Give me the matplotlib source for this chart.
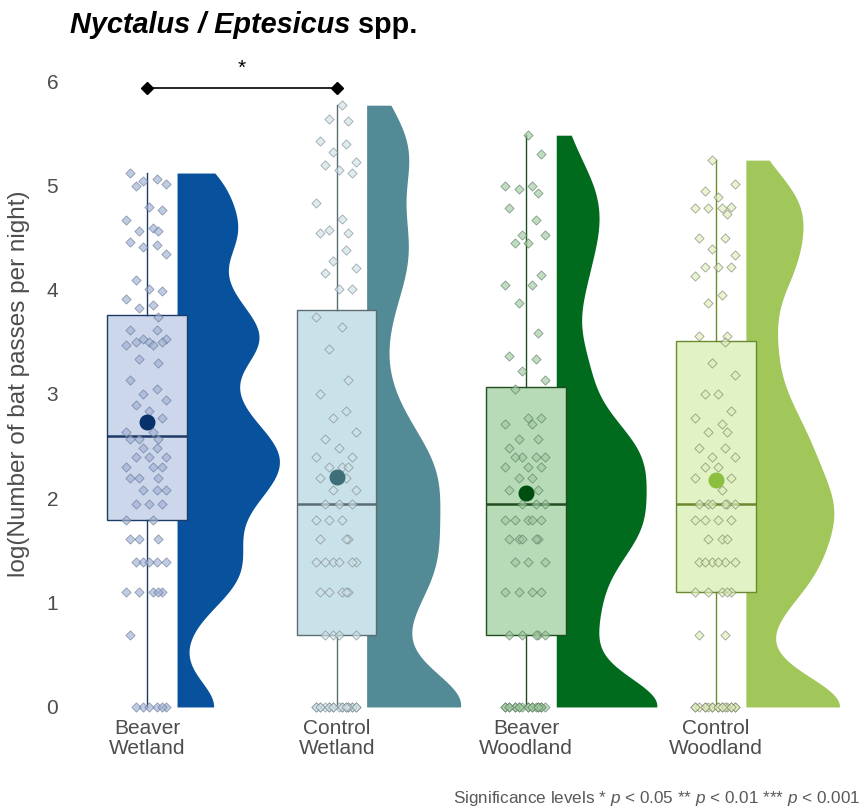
import numpy as np
import matplotlib
matplotlib.use('Agg')
import matplotlib.pyplot as plt

plt.rcParams['font.family'] = ['Liberation Sans', 'DejaVu Sans']
plt.rcParams['mathtext.fontset'] = 'custom'
plt.rcParams['mathtext.it'] = 'Liberation Sans:italic'
plt.rcParams['mathtext.rm'] = 'Liberation Sans'

# -- bat passes per night for each site type (plotted as log)
labels = ['Beaver\nWetland', 'Control\nWetland', 'Beaver\nWoodland', 'Control\nWoodland']

beaver_wetland = [167, 158, 155, 151, 148, 121, 117, 106, 99, 96, 96, 86, 84, 82, 77,
                  60, 55, 54, 50, 47, 46,
                  42, 37, 37, 34, 34, 33, 33, 33, 32, 32, 28, 27, 23, 21, 20, 19, 18,
                  17, 16, 14, 14,
                  13, 13, 13, 12, 12, 11, 11, 11, 10, 10, 10, 9, 9, 9, 8, 8, 8, 7, 7, 7,
                  6, 6, 5, 5, 5, 4, 4, 4, 4, 4, 3, 3, 3, 3, 3, 2, 1, 1, 1, 1, 1, 1]

control_wetland = [320, 279, 276, 226, 221, 204, 185, 181, 172, 167, 125, 107, 97, 94, 94,
                   80, 72, 67, 64, 55, 55,
                   42, 38, 31, 23, 20, 17, 16, 14, 13, 12, 11, 11, 10, 10, 10, 9, 9, 8, 8,
                   7, 7, 7,
                   6, 6, 6, 5, 5, 5, 4, 4, 4, 4, 4, 4, 3, 3, 3, 3, 3,
                   2, 2, 2, 2,
                   1, 1, 1, 1, 1, 1, 1, 1, 1, 1, 1, 1, 1, 1, 1, 1, 1, 1, 1, 1]

beaver_woodland = [240, 200, 148, 148, 143, 138, 119, 106, 92, 92, 85, 85, 63, 57, 57,
                   48, 36, 29, 28, 25, 23,
                   21, 16, 16, 15, 15, 13, 13, 12, 11, 11, 11, 11, 10, 10, 10, 9, 9, 8, 8,
                   7, 7, 7,
                   6, 6, 6, 6, 6, 5, 5, 5, 5, 5, 4, 4, 4, 3, 3, 3, 3,
                   2, 2, 2, 2, 2,
                   1, 1, 1, 1, 1, 1, 1, 1, 1, 1, 1, 1, 1, 1, 1, 1, 1, 1, 1]

control_woodland = [189, 151, 140, 133, 121, 119, 119, 119, 113, 90, 90, 81, 76, 68, 68,
                    68, 62, 52, 48, 35, 35,
                    33, 27, 24, 20, 20, 17, 16, 15, 14, 14, 12, 12, 11, 11, 10, 10,
                    9, 9, 8,
                    7, 7, 7, 7, 7, 7,
                    6, 6, 6, 6, 5, 5, 5, 4, 4, 4, 4, 4, 4,
                    3, 3, 3, 3, 3, 2, 2,
                    1, 1, 1, 1, 1, 1, 1, 1, 1, 1, 1, 1, 1, 1, 1, 1, 1, 1]

violin_col = ['#08519c', '#528a96', '#006b1c', '#a1c65a']
box_col = ['#cdd7eb', '#c9e2e9', '#b6dbb6', '#e1f2c4']
edge_col = ['#1e3a66', '#5b6d72', '#1f4d1f', '#6b8a2e']
pt_fill = ['#9fb1d4', '#cfe1e6', '#9fcb9f', '#ddeebb']
pt_edge = ['#5f6f8c', '#6f8085', '#54705a', '#6f755e']
mean_col = ['#08306b', '#3e6e78', '#004d10', '#8cbf3f']

# horizontal offsets reused for the points of every group
jitter = np.array([-0.09, 0.05, -0.02, 0.10, -0.06, 0.01, 0.08, -0.11, 0.03, -0.04, 0.06])

data = [np.log(np.array(d, dtype=float)) for d in
        (beaver_wetland, control_wetland, beaver_woodland, control_woodland)]
pos = np.arange(1, 5)


def kde(v, grid, adjust=0.5):
    n = len(v)
    iqr = np.subtract(*np.percentile(v, [75, 25]))
    bw = adjust * 0.9 * min(v.std(ddof=1), iqr / 1.34) * n ** -0.2
    z = (grid[:, None] - v[None, :]) / bw
    return np.exp(-0.5 * z ** 2).sum(axis=1) / (n * bw * np.sqrt(2 * np.pi))


fig = plt.figure(figsize=(8.67, 8.11), dpi=100)
ax = fig.add_axes([68 / 867, 0.1154, 792 / 867, 0.8233])

#-half violins on the right of each box, same area for all groups
grids = [np.linspace(v.min(), v.max(), 300) for v in data]
dens = [kde(v, g) for v, g in zip(data, grids)]
k = 0.54 / max(d.max() for d in dens)
for i in range(4):
    x0 = pos[i] + 0.158
    ax.fill_betweenx(grids[i], x0, x0 + dens[i] * k, color=violin_col[i], lw=0, zorder=1)

#-boxes
bp = ax.boxplot(data, positions=pos, widths=0.42, whis=1.5, showfliers=False,
                showcaps=False, patch_artist=True, manage_ticks=False, zorder=2)
for i in range(4):
    bp['boxes'][i].set(facecolor=box_col[i], edgecolor=edge_col[i], linewidth=1.0)
    bp['medians'][i].set(color=edge_col[i], linewidth=1.8)
    for w in bp['whiskers'][2 * i:2 * i + 2]:
        w.set(color=edge_col[i], linewidth=1.0)

#-jittered points and group means
for i, v in enumerate(data):
    jit = np.resize(np.roll(jitter, 3 * i), len(v))
    ax.scatter(pos[i] + jit, v, marker='D', s=22, facecolor=pt_fill[i],
               edgecolor=pt_edge[i], linewidth=0.6, alpha=0.65, zorder=3)
    ax.scatter(pos[i], v.mean(), s=110, color=mean_col[i], zorder=4)

#-significance bracket
ax.plot([1, 2], [5.93, 5.93], color='black', lw=1.2, marker='D', ms=6, clip_on=False, zorder=5)
ax.text(1.5, 6.03, '*', ha='center', va='bottom', fontsize=15, color='black')

ax.set_xlim(0.583, 4.76)
ax.set_ylim(-0.1, 6.3)
ax.set_yticks(range(7))
ax.set_xticks(pos)
ax.set_xticklabels(labels, fontsize=15, color='#4d4d4d', linespacing=1.1)
ax.tick_params(axis='both', length=0, labelcolor='#4d4d4d')
ax.tick_params(axis='y', labelsize=15, pad=7)
ax.tick_params(axis='x', pad=1)
for s in ax.spines.values():
    s.set_visible(False)
ax.set_ylabel('log(Number of bat passes per night)', fontsize=17.5, color='#4d4d4d', labelpad=12)

#-title, italic genus names then plain "spp."
t1 = fig.text(70 / 867, 1 - 33 / 811, 'Nyctalus / Eptesicus', fontsize=20.8,
              fontweight='bold', style='italic', va='baseline')
fig.canvas.draw()
bb = t1.get_window_extent()
fig.text(bb.x1 / fig.bbox.width, 1 - 33 / 811, ' spp.', fontsize=20.8,
         fontweight='bold', va='baseline')

fig.text(860 / 867, 1 - 803 / 811,
         r'Significance levels * $p$ < 0.05 ** $p$ < 0.01 *** $p$ < 0.001',
         ha='right', va='baseline', fontsize=12.3, color='#595959')

plt.savefig('out.png', dpi=100)
